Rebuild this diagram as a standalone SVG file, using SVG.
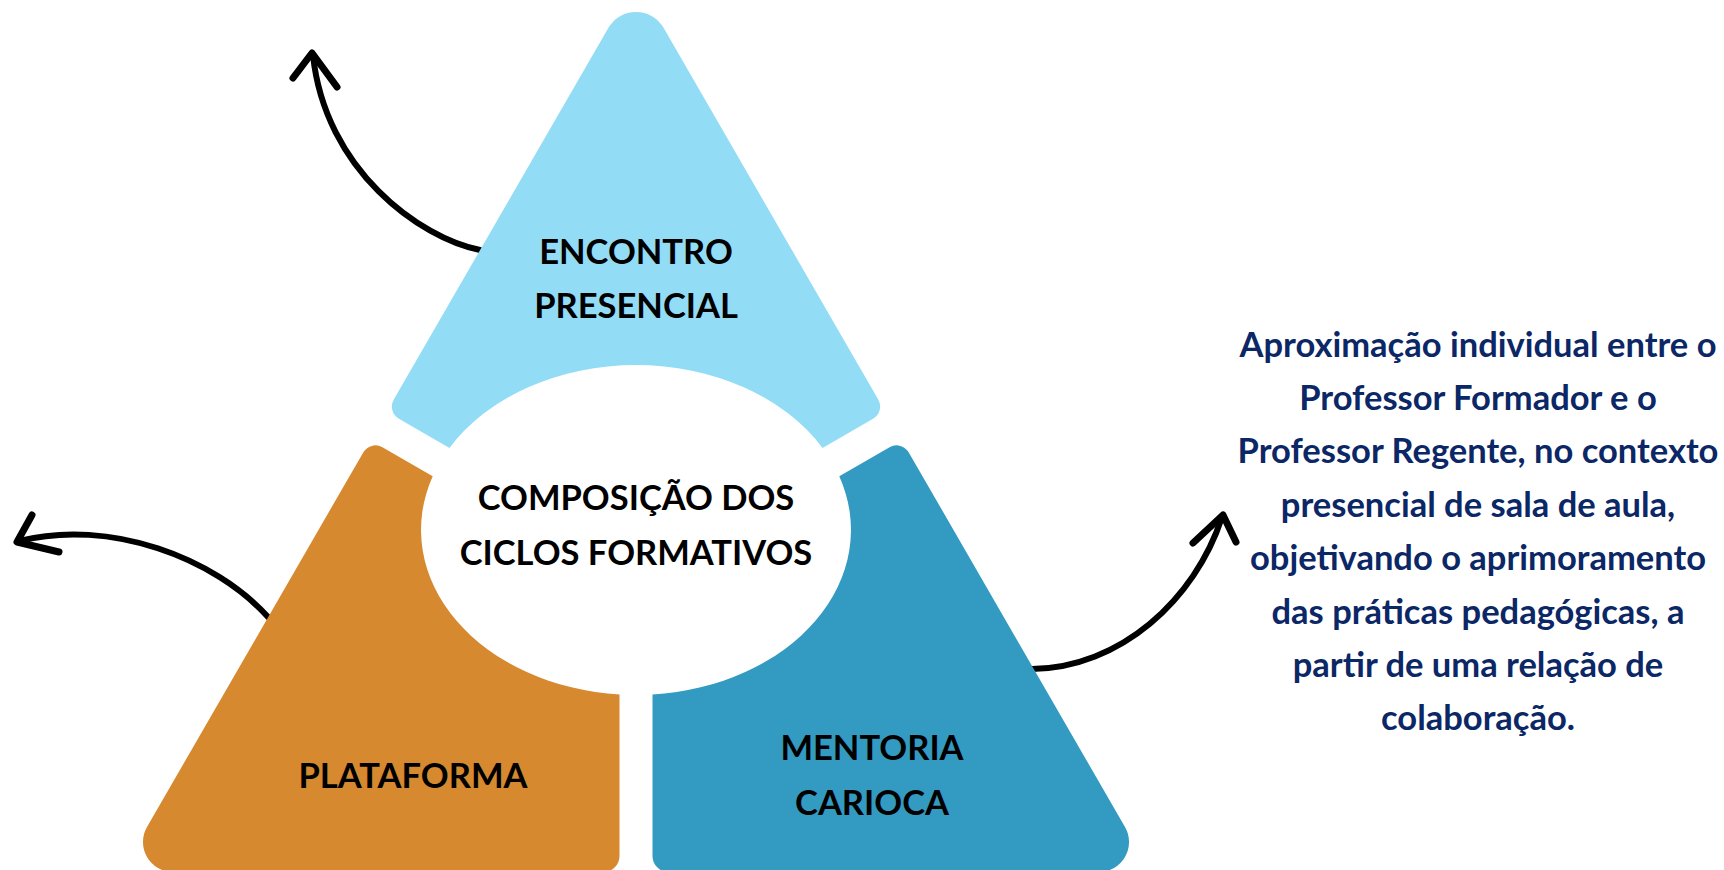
<svg xmlns="http://www.w3.org/2000/svg" width="1724" height="870" viewBox="0 0 1724 870">
<style>
.lbl{font-family:Lato,"Open Sans","Liberation Sans",sans-serif;font-weight:700;font-size:34.5px;fill:#000;text-anchor:middle}
.desc{font-family:Lato,"Open Sans","Liberation Sans",sans-serif;font-weight:700;font-size:34.5px;fill:#0B2766;text-anchor:middle}
.arr{fill:none;stroke:#000;stroke-width:6;stroke-linecap:round;stroke-linejoin:round}
.head{fill:none;stroke:#000;stroke-width:7;stroke-linecap:round;stroke-linejoin:round}
</style>
<rect width="1724" height="870" fill="#fff"/>
<g id="connectors">
<path class="arr" d="M 480 250 C 420 238, 325 170, 313 55"/>
<path class="head" d="M 293 78 L 312 53 L 337 87"/>
<path class="arr" d="M 268 617 C 215 558, 110 518, 19 541"/>
<path class="head" d="M 32 515 L 17 542 L 59 552"/>
<path class="arr" d="M 1032 669 C 1120 668, 1195 600, 1222 517"/>
<path class="head" d="M 1193 543 L 1223 515 L 1236 542"/>
</g>
<g id="node-encontro">
<path fill="#92DCF5" d="M 449.5 447.95 A 215 165 0 0 1 822.5 447.95 L 873.1 418.7 A 14 14 0 0 0 878.25 399.6 L 663.7 28 A 32 32 0 0 0 608.3 28 L 393.75 399.6 A 14 14 0 0 0 398.9 418.7 Z"/>
<text class="lbl" x="636" y="264">ENCONTRO</text>
<text class="lbl" x="636" y="318">PRESENCIAL</text>
</g>
<g id="node-plataforma">
<path fill="#D6892E" d="M 432.7 476.35 L 382.4 447.3 A 14 14 0 0 0 363.25 452.4 L 147 827 A 30 30 0 0 0 173 872 L 603.5 872 A 16 16 0 0 0 619.5 856 L 619.5 694.5 A 215 165 0 0 1 432.7 476.35 Z"/>
<text class="lbl" x="413" y="788">PLATAFORMA</text>
</g>
<g id="node-mentoria">
<path fill="#339AC2" d="M 839.3 476.35 L 889.6 447.3 A 14 14 0 0 1 908.75 452.4 L 1125 827 A 30 30 0 0 1 1099 872 L 668.5 872 A 16 16 0 0 1 652.5 856 L 652.5 694.5 A 215 165 0 0 0 839.3 476.35 Z"/>
<text class="lbl" x="872" y="760">MENTORIA</text>
<text class="lbl" x="872" y="815">CARIOCA</text>
</g>
<g id="node-center">
<ellipse cx="636" cy="530" rx="212" ry="162" fill="#fff"/>
<text class="lbl" x="636" y="510">COMPOSIÇÃO DOS</text>
<text class="lbl" x="636" y="565">CICLOS FORMATIVOS</text>
</g>
<g id="node-descricao">
<text class="desc" x="1478" y="356.5">Aproximação individual entre o</text>
<text class="desc" x="1478" y="409.9">Professor Formador e o</text>
<text class="desc" x="1478" y="463.3">Professor Regente, no contexto</text>
<text class="desc" x="1478" y="516.7">presencial de sala de aula,</text>
<text class="desc" x="1478" y="570.1">objetivando o aprimoramento</text>
<text class="desc" x="1478" y="623.5">das práticas pedagógicas, a</text>
<text class="desc" x="1478" y="676.9">partir de uma relação de</text>
<text class="desc" x="1478" y="730.3">colaboração.</text>
</g>
</svg>
